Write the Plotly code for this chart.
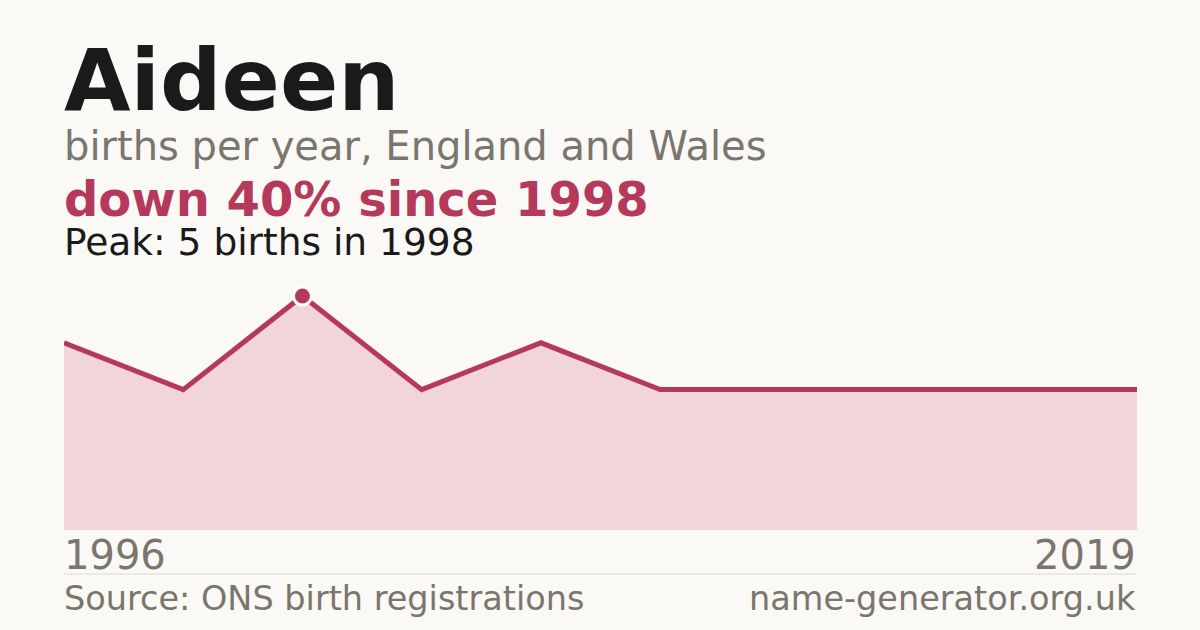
import plotly.graph_objects as go

# births per year (ONS only lists years with 3+ births)
years = [1996, 1997, 1998, 1999, 2000, 2001, 2004, 2010, 2015, 2019]
births = [4, 3, 5, 3, 4, 3, 3, 3, 3, 3]

name = "Aideen"
subtitle = "births per year, England and Wales"
change_text = "down 40% since 1998"
peak_text = "Peak: 5 births in 1998"
source_text = "Source: ONS birth registrations"
site_text = "name-generator.org.uk"

BG = "#faf9f5"
RED = "#b5395a"
FILL = "#f2d5da"
GREY = "#7a756d"
DARK = "#1a1a1a"
FONT = "DejaVu Sans"

# plot area in pixels
TOP, BOTTOM = 282, 530
H = BOTTOM - TOP


def py(pixel):
    # page pixel row -> paper coordinate
    return (BOTTOM - pixel) / H


idx = list(range(len(years)))
peak_i = births.index(max(births))

fig = go.Figure()
fig.add_trace(go.Scatter(
    x=idx, y=births, mode="lines",
    line=dict(color=RED, width=5),
    fill="tozeroy", fillcolor=FILL,
    hoverinfo="skip",
))
fig.add_trace(go.Scatter(
    x=[idx[peak_i]], y=[births[peak_i]], mode="markers",
    marker=dict(color=RED, size=18, line=dict(color="white", width=3)),
    hoverinfo="skip",
))

notes = [
    (name, 86, DARK, True, 80),
    (subtitle, 40, GREY, False, 146),
    (change_text, 48, RED, True, 199),
    (peak_text, 37.5, DARK, False, 242),
]
annotations = []
for text, size, color, bold, center in notes:
    annotations.append(dict(
        text=f"<b>{text}</b>" if bold else text,
        xref="paper", yref="paper", x=0, y=py(center), xshift=-2,
        xanchor="left", yanchor="middle", showarrow=False,
        font=dict(family=FONT, size=size, color=color),
    ))

annotations += [
    dict(text=str(years[0]), xref="paper", yref="paper", x=0, y=py(555),
         xshift=-2, xanchor="left", yanchor="middle", showarrow=False,
         font=dict(family=FONT, size=40, color=GREY)),
    dict(text=str(years[-1]), xref="paper", yref="paper", x=1, y=py(555),
         xshift=1, xanchor="right", yanchor="middle", showarrow=False,
         font=dict(family=FONT, size=40, color=GREY)),
    dict(text=source_text, xref="paper", yref="paper", x=0, y=py(598),
         xshift=-2, xanchor="left", yanchor="middle", showarrow=False,
         font=dict(family=FONT, size=33.5, color=GREY)),
    dict(text=site_text, xref="paper", yref="paper", x=1, y=py(598),
         xshift=1, xanchor="right", yanchor="middle", showarrow=False,
         font=dict(family=FONT, size=33.5, color=GREY)),
]

fig.update_layout(
    width=1200, height=630,
    margin=dict(l=64, r=63, t=TOP, b=630 - BOTTOM),
    paper_bgcolor=BG, plot_bgcolor=BG,
    showlegend=False,
    xaxis=dict(range=[0, len(years) - 1], visible=False, fixedrange=True),
    yaxis=dict(range=[0, max(births) * 248 / 234], visible=False, fixedrange=True),
    annotations=annotations,
    shapes=[dict(type="line", xref="paper", yref="paper",
                 x0=0, x1=1, y0=py(574), y1=py(574),
                 line=dict(color="#ddd9d0", width=1))],
)

# drop the page's default body margin so the figure fills the window
fig.write_html("out.html", config={"displayModeBar": False},
               post_script="document.body.style.margin='0';"
                           "document.body.style.background='%s';" % BG)
